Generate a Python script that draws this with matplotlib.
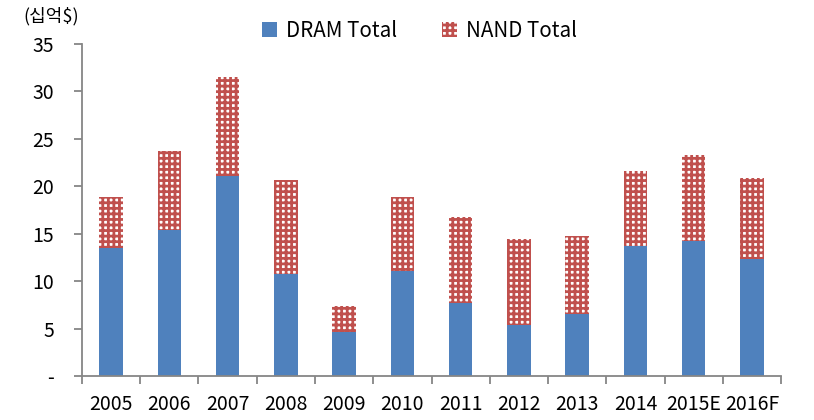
import numpy as np
import matplotlib
matplotlib.use("Agg")
import matplotlib.pyplot as plt
from matplotlib.patches import Patch

# data (십억$)
years = ["2005", "2006", "2007", "2008", "2009", "2010", "2011",
         "2012", "2013", "2014", "2015E", "2016F"]
dram = [13.5, 15.4, 21.1, 10.75, 4.6, 11.1, 7.7, 5.4, 6.5, 13.7, 14.2, 12.3]
total = [18.9, 23.7, 31.5, 20.65, 7.4, 18.9, 16.75, 14.4, 14.75, 21.6, 23.3, 20.9]
nand = [t - d for t, d in zip(total, dram)]
yticks = [0, 5, 10, 15, 20, 25, 30, 35]
ylabels = ["-", "5", "10", "15", "20", "25", "30", "35"]

blue = "#4F81BD"
red = "#C0504D"
grey = "#868686"
fam = ["Noto Sans CJK KR", "DejaVu Sans"]

plt.rcParams["hatch.linewidth"] = 2.0
fig = plt.figure(figsize=(8.14, 4.2), dpi=100)
ax = fig.add_axes([0.1007, 0.1048, 0.8588, 0.7904])

x = np.arange(len(years))
ax.bar(x, dram, width=0.4, color=blue, linewidth=0)
ax.bar(x, nand, width=0.4, bottom=dram, facecolor="white", edgecolor=red,
       hatch="+++", linewidth=0)

ax.set_xlim(-0.5, len(years) - 0.5)
ax.set_ylim(0, 35)
ax.set_yticks(yticks)
ax.set_yticklabels(ylabels, fontsize=14, family=fam)
ax.set_xticks(np.arange(len(years) + 1) - 0.5)
ax.set_xticklabels([])
ax.set_xticks(x, minor=True)
ax.set_xticklabels(years, minor=True, fontsize=14, family=fam)
ax.tick_params(axis="x", which="minor", length=0, pad=13)
ax.tick_params(axis="x", which="major", length=6, color=grey, width=1.3)
ax.tick_params(axis="y", length=6, color=grey, width=1.3, pad=14)

for s in ["top", "right"]:
    ax.spines[s].set_visible(False)
for s in ["left", "bottom"]:
    ax.spines[s].set_color(grey)
    ax.spines[s].set_linewidth(1.3)

fig.text(0.029, 0.962, "(십억$)", fontsize=13, va="center", ha="left",
         family=fam)

handles = [Patch(facecolor=blue, linewidth=0),
           Patch(facecolor="white", edgecolor=red, hatch="+++", linewidth=0)]
fig.legend(handles, ["DRAM Total", "NAND Total"], loc="center",
           bbox_to_anchor=(0.515, 0.927), ncol=2, frameon=False,
           prop={"family": fam, "size": 14.8}, handlelength=0.75,
           handleheight=0.75, handletextpad=0.4, columnspacing=2.2)

fig.savefig("out.png", dpi=100)
